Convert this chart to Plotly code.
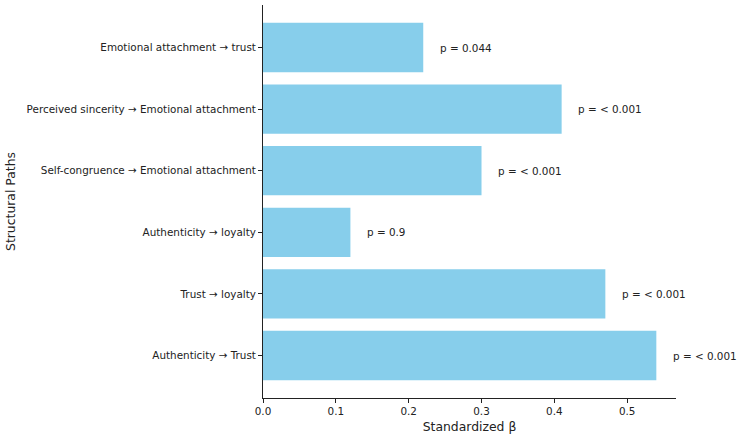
import plotly.graph_objects as go

paths = [
    "Authenticity → Trust",
    "Trust → loyalty",
    "Authenticity → loyalty",
    "Self-congruence → Emotional attachment",
    "Perceived sincerity → Emotional attachment",
    "Emotional attachment → trust",
]
betas = [0.54, 0.47, 0.12, 0.30, 0.41, 0.22]
p_labels = ["p = < 0.001", "p = < 0.001", "p = 0.9", "p = < 0.001", "p = < 0.001", "p = 0.044"]
x_ticks = [0.0, 0.1, 0.2, 0.3, 0.4, 0.5]

font = "DejaVu Sans"
fs = 10.4
fig = go.Figure()
fig.add_trace(go.Bar(
    x=betas, y=list(range(len(paths))), orientation="h",
    width=0.8, marker=dict(color="#87CEEB", line=dict(width=0)),
    hoverinfo="skip",
))
for i, (b, p) in enumerate(zip(betas, p_labels)):
    fig.add_annotation(x=b + 0.02, y=i, text=p, showarrow=False,
                       xanchor="left", yanchor="middle",
                       font=dict(family=font, size=fs, color="#222"))

fig.update_layout(
    width=738, height=437,
    margin=dict(l=263, r=62, t=5, b=39),
    plot_bgcolor="white", paper_bgcolor="white",
    showlegend=False,
    font=dict(family=font, size=fs, color="#222"),
    xaxis=dict(range=[0, 0.567], tickvals=x_ticks,
               ticktext=[f"{v:.1f}" for v in x_ticks],
               showgrid=False, zeroline=False, automargin=False,
               showline=True, linecolor="#222", linewidth=1,
               ticks="outside", ticklen=4, tickcolor="#222",
               title=dict(text="Standardized β", font=dict(size=12.4), standoff=5)),
    yaxis=dict(range=[-0.69, 5.69], tickvals=list(range(len(paths))), ticktext=paths,
               showgrid=False, zeroline=False, automargin=False,
               showline=True, linecolor="#222", linewidth=1,
               ticks="outside", ticklen=4, tickcolor="#222",
               title=dict(text="Structural Paths", font=dict(size=12.4), standoff=8)),
)
fig.write_html("out.html")
